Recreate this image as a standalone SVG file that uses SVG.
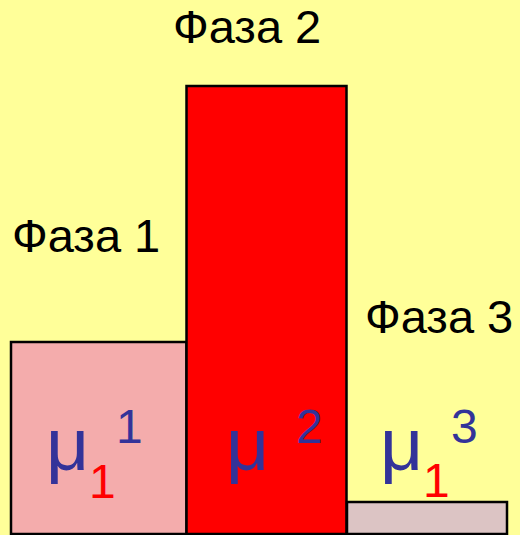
<svg xmlns="http://www.w3.org/2000/svg" width="520" height="535" viewBox="0 0 520 535">
<style>
.bar{stroke:#000;stroke-width:2.5}
.lbl{font-family:"Liberation Sans",Arial,sans-serif;font-size:47px;fill:#000}
.mu{font-family:"Liberation Sans",Arial,sans-serif;font-size:75px;fill:#333399}
.sup{font-family:"Liberation Sans",Arial,sans-serif;font-size:48px;fill:#333399}
.sub{font-family:"Liberation Sans",Arial,sans-serif;font-size:48px;fill:#FF0000}
</style>
<rect x="0" y="0" width="520" height="535" fill="#FFFF99"/>
<g id="phase1">
<rect class="bar" x="11" y="342" width="175.5" height="192" fill="#F4ACAC"/>
<text class="lbl" x="12" y="252">Фаза 1</text>
<text class="mu" x="46" y="470">μ</text>
<text class="sub" x="89" y="498">1</text>
<text class="sup" x="116" y="443">1</text>
</g>
<g id="phase2">
<rect class="bar" x="186.5" y="86" width="160" height="448" fill="#FF0000"/>
<text class="lbl" x="173" y="43">Фаза 2</text>
<text class="mu" x="226" y="470">μ</text>
<text class="sup" x="296" y="443">2</text>
</g>
<g id="phase3">
<rect class="bar" x="347" y="502" width="160" height="32" fill="#DCC4C4"/>
<text class="lbl" x="365" y="333">Фаза 3</text>
<text class="mu" x="380" y="470">μ</text>
<text class="sub" x="423" y="497">1</text>
<text class="sup" x="451" y="443">3</text>
</g>
</svg>
